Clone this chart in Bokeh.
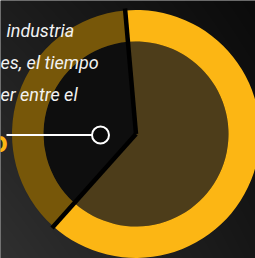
import numpy as np
from bokeh.plotting import figure
from bokeh.models import Range1d
from bokeh.core.properties import value
from bokeh.embed import file_html
from bokeh.resources import INLINE

# ---- data ----
slice_names = ["principal", "resto"]
slice_values = [63, 37]
slice_colors = ["#FCB614", "#775709"]
inner_colors = ["#4d3d1a", "#0e0e0e"]

text_lines = ["industria", "es, el tiempo", "er entre el"]
highlight_text = ["o"]

# ---- layout (reference pixel space, y measured downward) ----
W, H = 255, 258

def fy(yref):
    return H - yref

cx, cy = 135.5, fy(133.5)
r_out, r_in = 124.0, 92.5
start_deg = 95.0

p = figure(width=W, height=H, output_backend="svg", toolbar_location=None,
           x_range=Range1d(0, W), y_range=Range1d(0, H),
           min_border=0, outline_line_color=None)
p.axis.visible = False
p.grid.visible = False
p.background_fill_color = "#161616"
p.border_fill_color = "#161616"

# background gradient
ii, jj = np.meshgrid(np.arange(W), np.arange(H))
X = ii + 0.5
Y = H - (jj + 0.5)
u = X / W
v = Y / H
TL, TR, BL, BR = 0x1d, 0x0b, 0x30, 0x17
g = TL * (1 - u) * (1 - v) + TR * u * (1 - v) + BL * (1 - u) * v + BR * u * v
img = np.empty((H, W), dtype=np.uint32)
view = img.view(dtype=np.uint8).reshape((H, W, 4))
gv = np.clip(g, 0, 255).astype(np.uint8)
view[..., 0] = gv
view[..., 1] = gv
view[..., 2] = gv
view[..., 3] = 255
p.image_rgba(image=[img], x=0, y=0, dw=W, dh=H)

# angles (clockwise from start)
vals = np.array(slice_values, dtype=float)
spans = vals / vals.sum() * 2 * np.pi
ends = np.deg2rad(start_deg) - np.concatenate([[0], np.cumsum(spans)[:-1]])
starts = ends - spans

p.wedge(x=cx, y=cy, radius=r_in, start_angle=starts, end_angle=ends,
        fill_color=inner_colors, line_color=None)
p.annular_wedge(x=cx, y=cy, inner_radius=r_in, outer_radius=r_out,
                start_angle=starts, end_angle=ends,
                fill_color=slice_colors, line_color=None)

bounds = list(ends)
p.ray(x=[cx] * len(bounds), y=[cy] * len(bounds), length=r_out + 2,
      angle=bounds, line_color="#000000", line_width=4.5)

# texts
left_edges = [6, 0, 0]
baselines = [fy(30 + i * 32) for i in range(len(text_lines))]
p.text(x=left_edges, y=baselines, text=text_lines, text_align="left",
       text_baseline="alphabetic", text_font=value("Roboto"),
       text_font_style="italic", text_font_size="18px", text_color="#f2f2f2")

# highlighted fragment (bold yellow, cut at the left edge)
p.text(x=[7], y=[fy(141)], text=highlight_text, text_align="right",
       text_baseline="alphabetic", text_font=value("Roboto"),
       text_font_style="bold", text_font_size="29px", text_color="#FCB614")

# annotation line with marker
p.segment(x0=[6], y0=[fy(134.5)], x1=[100], y1=[fy(134.5)],
          line_color="#ffffff", line_width=2)
p.scatter(x=[100], y=[fy(134.5)], size=17, marker="circle",
          fill_color="#0a0a0a", line_color="#ffffff", line_width=2)

open("out.html", "w").write(file_html(p, INLINE))
